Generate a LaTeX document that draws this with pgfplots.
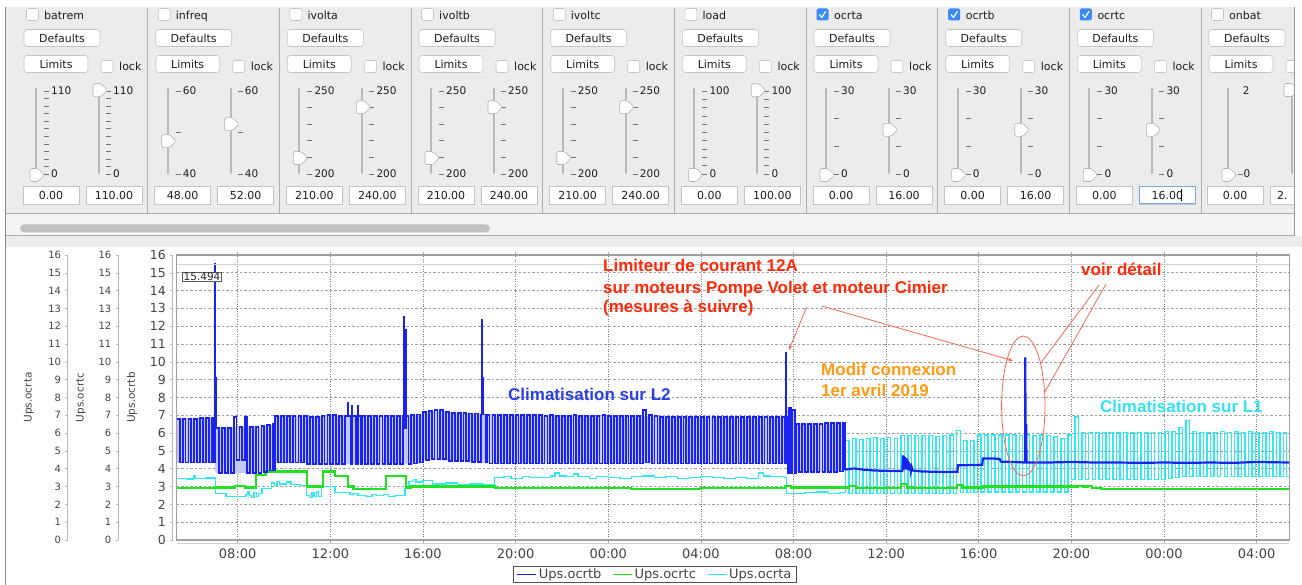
\documentclass[border=0pt]{standalone}
\usepackage{fontspec}
\setmainfont{DejaVu Sans}
\newfontfamily\annot{Liberation Sans}
\usepackage{pgfplots}
\pgfplotsset{compat=1.18}
\usetikzlibrary{arrows.meta}
\definecolor{panelbg}{HTML}{ECECEC}
\definecolor{sepc}{HTML}{ADADAD}
\definecolor{btnb}{HTML}{C4C4C4}
\definecolor{txt}{HTML}{1E1E1E}
\definecolor{tickc}{HTML}{444444}
\definecolor{cblue}{HTML}{1A22F0}
\definecolor{cgreen}{HTML}{22E022}
\definecolor{ccyan}{HTML}{2EEAF4}
\definecolor{bfill}{HTML}{C3C8FA}
\definecolor{ared}{HTML}{FF2A0A}
\definecolor{aline}{HTML}{F26A55}
\definecolor{aorange}{HTML}{FF9A12}
\definecolor{ablue}{HTML}{2A40E6}
\definecolor{acyan}{HTML}{33E4F0}
\definecolor{chk}{HTML}{3B8BF6}
\definecolor{scrl}{HTML}{F4F4F4}
\definecolor{thumbc}{HTML}{C2C2C2}
\definecolor{focusc}{HTML}{7AA7E8}
\definecolor{leftb}{HTML}{8A8A8A}
\newcommand\fs[1]{\fontsize{#1}{#1}\selectfont}
\newcommand\thumb[2]{\filldraw[fill=white,draw=gray!60,line width=0.6pt,rounded corners=1.5pt] ({#1-6},{#2-6.5}) -- ({#1+2},{#2-6.5}) -- ({#1+8.5},{#2}) -- ({#1+2},{#2+6.5}) -- ({#1-6},{#2+6.5}) -- cycle;}
\pgfplotsset{/pgf/number format/assume math mode=true,
 auxaxis/.style={at={(#1pt,45pt)},anchor=south west,scale only axis,width=10pt,height=285pt,
  xmin=0,xmax=1,ymin=0,ymax=16,hide x axis,axis y line*=left,ytick={0,1,...,16},
  tick align=outside,major tick length=2.5pt,
  y axis line style={draw=gray!55,line width=0.8pt},ytick style={draw=gray!55,line width=0.6pt},
  yticklabel style={text=tickc,inner sep=0pt,xshift=-4pt},
  ylabel style={font=\fs{10.5},text=tickc,anchor=center}}}
\begin{document}
\begin{tikzpicture}
\useasboundingbox (0,0) rectangle (1302pt,585pt);
\fill[white] (0,0) rectangle (1302pt,585pt);
\begin{scope}[x=1pt,y=-1pt,shift={(0pt,585pt)}]
 \fill[panelbg] (5,7) rectangle (1294,247);
 \fill[panelbg] (1294,236) rectangle (1302,247);
 \fill[scrl] (6,213.5) rectangle (1294,235);
 \fill[thumbc,rounded corners=4pt] (20,224.5) rectangle (490,232.5);
 \draw[sepc,line width=0.8pt] (5,213.5) -- (1294,213.5);
 \draw[sepc,line width=0.8pt] (5,235.5) -- (1294,235.5);
 \foreach \s in {147.7,279.3,411,542.7,674.3,806,937.7,1069.3,1201} \draw[sepc,line width=1pt] (\s,8) -- (\s,213);
 \draw[gray!80,line width=0.8pt] (1294,7) -- (1294,236);
 \foreach \L/\nm/\ck/\tp/\bt/\nt/\fa/\fb/\va/\vb in {
  16/batrem/0/110/0/11/0/1/0.00/110.00,
  147.7/infreq/0/60/40/2/0.4/0.6/48.00/52.00,
  279.3/ivolta/0/250/200/5/0.2/0.8/210.00/240.00,
  411/ivoltb/0/250/200/5/0.2/0.8/210.00/240.00,
  542.7/ivoltc/0/250/200/5/0.2/0.8/210.00/240.00,
  674.3/load/0/100/0/10/0/1/0.00/100.00,
  806/ocrta/1/30/0/3/0/0.5333/0.00/16.00,
  937.7/ocrtb/1/30/0/3/0/0.5333/0.00/16.00,
  1069.3/ocrtc/1/30/0/3/0/0.5333/0.00/16.00}{
  \ifnum\ck=1
   \fill[chk,rounded corners=2pt] (\L+10.5,8.5) rectangle (\L+22.5,20.5);
   \draw[white,line width=1.2pt] (\L+13.3,14.6) -- (\L+15.8,17.4) -- (\L+19.8,11.2);
  \else
   \filldraw[fill=white,draw=btnb,line width=0.6pt,rounded corners=2pt] (\L+10.5,8.5) rectangle (\L+22.5,20.5);
  \fi
  \node[anchor=base west,inner sep=0,font=\fs{11},text=txt] at (\L+28,19.5) {\nm};
  \filldraw[fill=white,draw=btnb,line width=0.6pt,rounded corners=3pt] (\L+8,29.5) rectangle (\L+84,46.5);
  \node[font=\fs{11},text=txt] at (\L+46,38) {Defaults};
  \filldraw[fill=white,draw=btnb,line width=0.6pt,rounded corners=3pt] (\L+8,55.5) rectangle (\L+72,72.5);
  \node[font=\fs{11},text=txt] at (\L+40,64) {Limits};
  \filldraw[fill=white,draw=btnb,line width=0.6pt,rounded corners=2pt] (\L+85,60.5) rectangle (\L+97,72.5);
  \node[anchor=base west,inner sep=0,font=\fs{11},text=txt] at (\L+103,70.5) {lock};
  \draw[gray!55,line width=2.2pt,line cap=round] (\L+20,89) -- (\L+20,173);
  \draw[gray!55,line width=2.2pt,line cap=round] (\L+83,89) -- (\L+83,173);
  \foreach \k in {0,...,\nt}{
   \pgfmathsetmacro\ty{174-83*\k/\nt}
   \draw[gray!90!black,line width=0.6pt] (\L+28,\ty) -- (\L+33,\ty);
   \draw[gray!90!black,line width=0.6pt] (\L+90,\ty) -- (\L+95,\ty);}
  \node[anchor=west,inner sep=0,font=\fs{10.5},text=txt] at (\L+35,91) {\tp};
  \node[anchor=west,inner sep=0,font=\fs{10.5},text=txt] at (\L+35,174) {\bt};
  \node[anchor=west,inner sep=0,font=\fs{10.5},text=txt] at (\L+97,91) {\tp};
  \node[anchor=west,inner sep=0,font=\fs{10.5},text=txt] at (\L+97,174) {\bt};
  \pgfmathsetmacro\ya{175-84.7*\fa}
  \pgfmathsetmacro\yb{175-84.7*\fb}
  \thumb{\L+20}{\ya}
  \thumb{\L+83}{\yb}
  \filldraw[fill=white,draw=btnb,line width=0.6pt] (\L+7,186.7) rectangle (\L+63,204);
  \node[font=\fs{11},text=txt] at (\L+35,195.5) {\va};
  \filldraw[fill=white,draw=btnb,line width=0.6pt] (\L+70,186.7) rectangle (\L+126,204);
  \node[font=\fs{11},text=txt] at (\L+98,195.5) {\vb};
 }
 \draw[focusc,line width=1pt] (1139.3,186.7) rectangle (1195.3,204);
 \draw[black,line width=0.6pt] (1181.5,189.5) -- (1181.5,201.5);
 \begin{scope}
  \clip (1201,0) rectangle (1293.5,213);
  \filldraw[fill=white,draw=btnb,line width=0.6pt,rounded corners=2pt] (1211.5,8.5) rectangle (1223.5,20.5);
  \node[anchor=base west,inner sep=0,font=\fs{11},text=txt] at (1229,19.5) {onbat};
  \filldraw[fill=white,draw=btnb,line width=0.6pt,rounded corners=3pt] (1209,29.5) rectangle (1285,46.5);
  \node[font=\fs{11},text=txt] at (1247,38) {Defaults};
  \filldraw[fill=white,draw=btnb,line width=0.6pt,rounded corners=3pt] (1209,55.5) rectangle (1273,72.5);
  \node[font=\fs{11},text=txt] at (1241,64) {Limits};
  \filldraw[fill=white,draw=btnb,line width=0.6pt,rounded corners=2pt] (1286,60.5) rectangle (1298,72.5);
  \draw[gray!55,line width=2.2pt,line cap=round] (1228,89) -- (1228,173);
  \draw[gray!55,line width=2.2pt,line cap=round] (1292,95) -- (1292,173);
  \draw[gray!90!black,line width=0.6pt] (1237.5,174) -- (1242.5,174);
  \node[anchor=west,inner sep=0,font=\fs{10.5},text=txt] at (1242.7,91) {2};
  \node[anchor=west,inner sep=0,font=\fs{10.5},text=txt] at (1243.5,174) {0};
  \thumb{1228}{175}
  \thumb{1290}{90}
  \filldraw[fill=white,draw=btnb,line width=0.6pt] (1207,186.7) rectangle (1263,204);
  \node[font=\fs{11},text=txt] at (1235,195.5) {0.00};
  \filldraw[fill=white,draw=btnb,line width=0.6pt] (1270,186.7) rectangle (1326,204);
  \node[anchor=west,inner sep=0,font=\fs{11},text=txt] at (1277,195.5) {2.};
 \end{scope}
 \draw[leftb,line width=0.8pt] (5,7) -- (5,585);
 \draw[gray!35,line width=1pt] (176.7,543.3) -- (1289.3,543.3);
\end{scope}

\begin{axis}[auxaxis=67.7,yticklabel style={font=\fs{10}},ylabel={Ups.ocrta},ylabel style={at={(axis description cs:-3.87,0.5)}}]
\addplot[draw=none] coordinates {(0,0)};
\end{axis}
\begin{axis}[auxaxis=118,yticklabel style={font=\fs{10}},ylabel={Ups.ocrtc},ylabel style={at={(axis description cs:-3.7,0.5)}}]
\addplot[draw=none] coordinates {(0,0)};
\end{axis}
\begin{axis}[auxaxis=172.5,yticklabel style={font=\fs{12.5}},ylabel={Ups.ocrtb},ylabel style={at={(axis description cs:-4.05,0.5)}}]
\addplot[draw=none] coordinates {(0,0)};
\end{axis}

\begin{axis}[at={(176.7pt,45pt)},anchor=south west,scale only axis,
 width=1112.6pt,height=285pt,
 xmin=5.366,xmax=53.41,ymin=0,ymax=16,
 xtick={8,12,16,20,24,28,32,36,40,44,48,52},
 xticklabels={08:00,12:00,16:00,20:00,00:00,04:00,08:00,12:00,16:00,20:00,00:00,04:00},
 ytick={0,1,...,16},yticklabels={},
 ytick style={draw=none},
 xtick style={draw=gray!70,line width=0.6pt},
 tick align=outside,major tick length=3pt,
 xticklabel style={font=\fs{13},text=tickc,yshift=-2pt},
 grid=major,
 x grid style={draw=gray!95!black,dash pattern=on 1pt off 1.5pt,line width=0.7pt},
 y grid style={draw=gray!75,dash pattern=on 2.5pt off 2pt,line width=0.7pt},
 axis line style={draw=gray!75,line width=1.4pt},
 legend style={at={(0.4299,-0.121)},anchor=center,legend columns=3,draw={rgb,255:red,80;green,80;blue,80},line width=0.9pt,fill=white,font=\fs{13},text=tickc,inner xsep=3pt,inner ysep=0.3pt,/tikz/every even column/.append style={column sep=9pt}},
 legend image code/.code={\draw[#1,line width=1.2pt] (0pt,0pt) -- (19pt,0pt);},
 reverse legend]
\addplot[fill=bfill,draw=none,forget plot] coordinates {(5.375,6.85)(7.0,6.85)(7.05,6.3)(9.0,6.35)(9.6,6.5)(9.62,6.95)(16.0,7.0)(16.0,7.25)(17,7.25)(17,7.15)(18.6,7.05)(22,7.0)(26,6.95)(31.6,6.9)(31.75,7.3)(32.1,7.3)(32.12,6.5)(34.2,6.55)
(34.2,3.85)(31.75,3.8)(31.7,4.3)(18.6,4.3)(18.5,4.4)(17,4.45)(16.0,4.55)(15.9,4.3)(11,4.25)(11,4.35)(9.6,4.35)(9.5,3.9)(8.5,3.75)(7.05,3.75)(7.0,4.35)(5.375,4.35)};
\addplot[const plot,ccyan,line width=1.4pt] coordinates {(5.366,3.45)(5.8,3.42)(6.1,3.6)(6.15,3.45)(6.6,3.47)(7.05,2.6)(7.5,2.45)(8.35,2.55)(8.45,2.7)(8.5,2.5)(8.6,2.4)(8.7,2.65)(8.8,2.45)(8.9,2.6)(9.05,2.9)(9.45,3.2)(9.6,3.05)(9.7,3.3)(9.8,3.15)(10.1,3.25)(10.3,3.1)(10.7,3.05)(10.98,2.5)(11.1,2.4)(11.2,2.65)(11.3,2.45)(11.4,2.7)(11.5,2.45)(11.63,3.0)(12.2,2.65)(12.85,2.55)(13.0,2.6)(13.2,2.5)(13.54,2.45)(13.8,2.55)(14.0,2.5)(14.3,2.55)(14.5,2.45)(14.8,2.5)(15.22,2.9)(15.4,3.3)(15.6,3.4)(15.7,3.25)(16.0,3.35)(16.4,3.15)(17.0,3.2)(17.5,3.1)(18.0,3.15)(18.6,3.1)(19.1,3.5)(19.5,3.55)(19.8,3.45)(20.3,3.55)(20.6,3.5)(21.5,3.6)(21.7,3.75)(21.9,3.6)(22.2,3.55)(22.5,3.7)(22.7,3.55)(23.2,3.45)(23.5,3.55)(24.0,3.5)(24.5,3.45)(25.0,3.55)(25.5,3.6)(26.0,3.5)(26.5,3.55)(27.0,3.45)(27.5,3.5)(28.0,3.55)(28.5,3.5)(29.0,3.45)(29.5,3.5)(30.0,3.45)(30.5,3.75)(30.7,3.6)(31.0,3.55)(31.6,3.5)(31.7,2.6)(32.5,2.65)(33.0,2.7)(33.5,2.6)(34.0,2.65)
(34.25,5.6)(34.4,2.6)(34.55,5.7)(34.7,2.6)(34.85,5.65)(35,2.6)(35.15,5.7)(35.3,2.6)(35.45,5.75)(35.6,2.6)(35.75,5.7)(35.9,2.6)(36.05,5.75)(36.2,2.6)(36.35,5.7)(36.5,2.6)(36.65,5.85)(36.8,2.6)(36.95,5.85)(37.1,2.6)(37.25,5.85)(37.4,2.6)(37.55,5.85)(37.7,2.6)(37.85,5.85)(38,2.6)(38.15,5.8)(38.3,2.6)(38.45,5.85)(38.6,2.6)(38.75,5.9)(38.9,2.6)(39.05,6.15)(39.2,2.65)(39.35,5.6)(39.5,2.65)(39.65,5.6)(39.8,2.65)(39.95,5.9)(40.1,2.7)(40.25,5.9)(40.4,2.7)(40.55,5.9)(40.7,2.7)(40.85,5.9)(41,2.7)(41.15,5.9)(41.3,2.7)(41.45,5.9)(41.6,2.7)(41.75,5.85)(41.9,2.7)(42.05,5.9)(42.2,2.7)(42.35,5.85)(42.5,2.7)(42.65,5.9)(42.8,2.7)(42.95,5.85)(43.1,2.7)(43.25,5.8)(43.4,2.7)(43.55,5.7)(43.7,2.7)(43.85,5.9)(44,3.4)(44.15,6.9)(44.3,3.4)(44.45,6.05)(44.6,3.4)(44.75,6.05)(44.9,3.4)(45.05,6.05)(45.2,3.4)(45.35,6.05)(45.5,3.4)(45.65,6.05)(45.8,3.4)(45.95,6.05)(46.1,3.4)(46.25,6.05)(46.4,3.4)(46.55,6.05)(46.7,3.4)(46.85,6.05)(47,3.4)(47.15,6.05)(47.3,3.4)(47.45,6.05)(47.6,3.4)(47.75,6.05)(47.9,3.4)(48.05,6.1)(48.2,3.45)(48.35,6.1)(48.5,3.5)(48.65,6.3)(48.8,3.55)(48.95,6.7)(49.1,3.55)(49.25,6.1)(49.4,3.55)(49.55,6.05)(49.7,3.55)(49.85,6.05)(50,3.55)(50.15,6.05)(50.3,3.55)(50.45,6.1)(50.6,3.55)(50.75,6.05)(50.9,3.55)(51.05,6.1)(51.2,3.55)(51.35,6.05)(51.5,3.55)(51.65,6.1)(51.8,3.55)(51.95,6.05)(52.1,3.55)(52.25,6.05)(52.4,3.55)(52.55,6.1)(52.7,3.55)(52.85,6.05)(53,3.55)(53.15,6.05)(53.3,3.55)(53.4,3.55)};
\addlegendentry{Ups.ocrta}
\addplot[const plot,cgreen,line width=2.2pt] coordinates {(5.366,2.9)(7.0,2.95)(7.9,3.05)(8.3,2.95)(8.8,3.65)(9.2,3.85)(11.0,3.0)(11.7,3.85)(12.2,3.6)(12.75,3.0)(13.0,2.85)(14.4,3.6)(15.25,2.95)(15.5,3.0)(19.1,2.9)(22,2.93)(25,2.88)(28,2.92)(31.65,3.05)(31.9,2.95)(34.4,3.05)(34.7,2.9)(36.65,3.15)(36.9,2.95)(37.2,2.92)(39.05,3.1)(39.3,2.95)(40.2,3.0)(44.3,3.05)(44.5,3.0)(44.7,3.05)(44.9,2.9)(45.3,2.85)(53.4,2.85)};
\addlegendentry{Ups.ocrtc}
\addplot[const plot,cblue,line width=1.8pt] coordinates {(5.375,6.8)(5.5,4.35)(5.625,6.8)(5.75,4.35)(5.875,6.8)(6.0,4.35)(6.125,6.8)(6.25,4.35)(6.375,6.85)(6.5,4.35)(6.625,6.85)(6.75,4.35)(6.875,6.85)(6.98,4.35)(7.02,15.494)(7.03,12.6)(7.04,9.1)(7.05,6.3)(7.2,3.75)(7.325,6.3)(7.45,3.75)(7.575,6.3)(7.7,3.75)(7.825,6.9)(7.95,4.5)(8.075,6.35)(8.2,4.5)(8.3,6.9)(8.4,3.75)(8.525,6.35)(8.65,3.75)(8.775,6.35)(8.9,3.75)(9.025,6.4)(9.15,3.8)(9.275,6.45)(9.4,3.9)(9.5,6.5)(9.56,3.95)
(9.625,6.95)(9.75,4.35)(9.875,6.95)(10,4.35)(10.125,6.95)(10.25,4.35)(10.375,6.95)(10.5,4.35)(10.625,6.95)(10.75,4.35)(10.875,6.95)(11,4.25)(11.125,6.9)(11.25,4.25)(11.375,6.9)(11.5,4.25)(11.625,6.95)(11.75,4.25)(11.875,7)(12,4.25)(12.125,7)(12.25,4.25)(12.375,6.95)(12.5,4.25)(12.625,6.95)(12.75,7.7)(12.76,6.95)(12.875,4.25)(12.95,7.55)(12.96,6.95)(13.1,4.25)(13.18,7.5)(13.19,6.95)(13.3,4.25)(13.375,6.95)(13.5,4.25)(13.625,6.95)(13.75,4.25)(13.875,6.95)(14,4.25)(14.125,6.95)(14.25,4.25)(14.375,6.95)(14.5,4.25)(14.625,6.95)(14.75,4.25)(14.875,6.95)(15,4.25)(15.125,6.95)(15.18,12.5)(15.19,6.3)(15.25,11.8)(15.26,6.95)(15.375,4.25)(15.5,7)(15.625,4.3)(15.75,7.05)(15.875,4.35)
(16,7.2)(16.125,4.5)(16.25,7.25)(16.375,4.55)(16.5,7.3)(16.625,4.55)(16.75,7.3)(16.875,4.55)(17,7.2)(17.125,4.45)(17.25,7.15)(17.375,4.45)(17.5,7.15)(17.625,4.45)(17.75,7.15)(17.875,4.45)(18,7.1)(18.125,4.4)(18.25,7.1)(18.375,4.4)(18.5,7.05)(18.56,12.35)(18.57,9.1)(18.58,7.05)(18.7,4.35)
(18.75,7)(18.875,4.3)(19,7)(19.125,4.3)(19.25,7)(19.375,4.3)(19.5,7)(19.625,4.3)(19.75,7)(19.875,4.3)
(20,7)(20.125,4.3)(20.25,7)(20.375,4.3)(20.5,7)(20.625,4.3)(20.75,7)(20.875,4.3)
(21,7)(21.125,4.3)(21.25,6.95)(21.375,4.3)(21.5,7)(21.625,4.3)(21.75,6.95)(21.875,4.3)
(22,6.95)(22.125,4.3)(22.25,6.95)(22.375,4.3)(22.5,7)(22.625,4.3)(22.75,6.95)(22.875,4.3)
(23,6.95)(23.125,4.3)(23.25,6.95)(23.375,4.3)(23.5,6.95)(23.625,4.3)(23.75,7)(23.875,4.3)
(24,6.95)(24.125,4.3)(24.25,6.95)(24.375,4.3)(24.5,6.95)(24.625,4.3)(24.75,6.95)(24.875,4.3)
(25,6.95)(25.125,4.3)(25.25,6.95)(25.375,4.3)(25.5,7.3)(25.625,4.35)(25.75,7)(25.875,4.3)
(26,6.95)(26.125,4.3)(26.25,6.9)(26.375,4.3)(26.5,6.9)(26.625,4.3)(26.75,6.9)(26.875,4.3)
(27,6.9)(27.125,4.3)(27.25,6.9)(27.375,4.3)(27.5,6.9)(27.625,4.3)(27.75,6.9)(27.875,4.3)
(28,6.9)(28.125,4.3)(28.25,6.9)(28.375,4.3)(28.5,6.9)(28.625,4.3)(28.75,6.9)(28.875,4.3)
(29,6.9)(29.125,4.3)(29.25,6.9)(29.375,4.3)(29.5,6.9)(29.625,4.3)(29.75,6.9)(29.875,4.3)
(30,6.9)(30.125,4.3)(30.25,6.9)(30.375,4.3)(30.5,6.9)(30.625,4.3)(30.75,6.9)(30.875,4.3)
(31,6.9)(31.125,4.3)(31.25,6.9)(31.375,4.3)(31.5,6.9)(31.625,4.3)
(31.68,10.52)(31.69,6.9)(31.75,3.75)(31.8,7.4)(31.875,3.75)(31.95,7.3)(32.05,3.75)(32.125,6.5)(32.25,3.8)(32.375,6.5)(32.5,3.8)(32.625,6.5)(32.75,3.8)(32.875,6.5)(33,3.8)(33.125,6.5)(33.25,3.8)(33.375,6.55)(33.5,3.8)(33.625,6.55)(33.75,3.8)(33.875,6.55)(34,3.85)(34.125,6.55)(34.22,3.95)};
\addlegendentry{Ups.ocrtb}
\addplot[cblue,line width=2.2pt,forget plot] coordinates {(34.22,3.95)(34.6,4.02)(35.0,3.95)(35.5,3.9)(36.0,3.88)(36.7,3.87)(36.73,4.75)(36.75,3.95)(36.77,4.7)(36.79,3.95)(36.81,4.65)(36.83,3.95)(36.85,4.6)(36.87,3.95)(36.89,4.55)(36.91,3.95)(36.93,4.45)(36.95,3.95)(36.97,4.4)(36.99,3.9)(37.01,4.3)(37.03,3.9)(37.05,4.2)(37.07,3.9)(37.1,4.1)(37.15,3.9)(37.5,3.85)(38.0,3.83)(38.5,3.82)(39.08,3.83)(39.1,4.2)(39.5,4.2)(40.0,4.22)(40.15,4.22)(40.18,4.58)(40.6,4.58)(40.9,4.55)(40.95,4.4)(41.5,4.38)(42.0,4.35)(42.01,10.25)(42.02,4.35)(42.05,6.5)(42.06,4.35)(43,4.35)(44,4.38)(45,4.35)(46,4.35)(47,4.33)(48,4.35)(49,4.33)(50,4.35)(51,4.33)(52,4.38)(53.4,4.35)};
\draw[gray!35,line width=1pt] (axis cs:5.366,15.48) -- (axis cs:53.41,15.48);
\node[draw=gray!70!black,fill=white,inner sep=1pt,font=\fs{10.5},text=black!85] at (axis cs:6.46,14.78) {15.494};
\end{axis}

\begin{scope}[x=1pt,y=-1pt,shift={(0pt,585pt)}]
 \node[anchor=base west,inner sep=0,font=\annot\bfseries\fs{17},text=ared] at (603,272) {Limiteur de courant 12A};
 \node[anchor=base west,inner sep=0,font=\annot\bfseries\fs{17},text=ared] at (603,293.5) {sur moteurs Pompe Volet et moteur Cimier};
 \node[anchor=base west,inner sep=0,font=\annot\bfseries\fs{17},text=ared] at (603,313) {(mesures à suivre)};
 \node[anchor=base west,inner sep=0,font=\annot\bfseries\fs{17},text=ared] at (1081,276) {voir détail};
 \node[anchor=base west,inner sep=0,font=\annot\bfseries\fs{17},text=aorange] at (821,375.7) {Modif connexion};
 \node[anchor=base west,inner sep=0,font=\annot\bfseries\fs{17},text=aorange] at (821,396.7) {1er avril 2019};
 \node[anchor=base west,inner sep=0,font=\annot\bfseries\fs{17},text=ablue] at (508,401) {Climatisation sur L2};
 \node[anchor=base west,inner sep=0,font=\annot\bfseries\fs{17},text=acyan] at (1100,412.3) {Climatisation sur L1};
 \draw[aline,line width=0.8pt,-{Stealth[length=5pt,width=4pt]}] (806.7,306.7) -- (789,350);
 \draw[aline,line width=0.8pt,-{Stealth[length=5pt,width=4pt]}] (821.7,306) -- (1013,360.7);
 \draw[aline,line width=0.8pt] (1023.3,406) ellipse [x radius=21.7pt,y radius=70pt];
 \draw[aline,line width=0.8pt] (1099,285) -- (1040,364);
 \draw[aline,line width=0.8pt] (1106,284) -- (1045,391.7);
\end{scope}
\end{tikzpicture}
\end{document}
